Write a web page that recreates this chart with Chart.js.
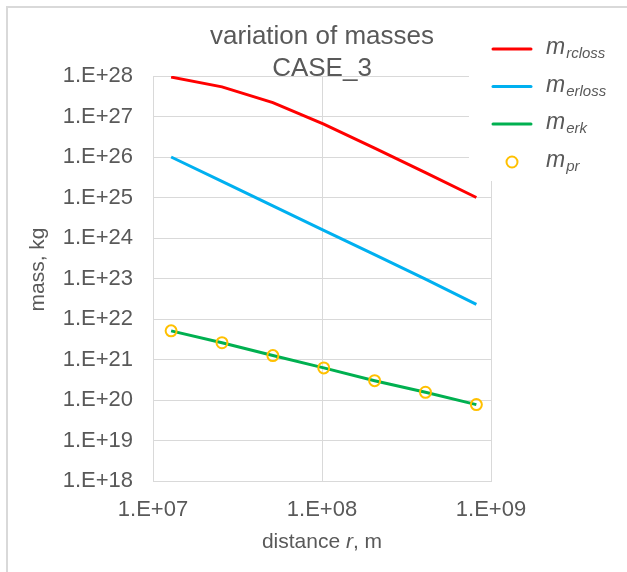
<!DOCTYPE html>
<html>
<head>
<meta charset="utf-8">
<script src="https://cdn.jsdelivr.net/npm/chart.js@4"></script>
<style>
  html, body { margin: 0; padding: 0; background: #fff; }
  #wrap { width: 627px; height: 572px; }
</style>
</head>
<body>
<div id="wrap"><canvas id="massChart" width="627" height="572"></canvas></div>
<script>
// distance r, m
const distances = [1.28e7, 2.56e7, 5.12e7, 1.024e8, 2.048e8, 4.096e8, 8.192e8];
// masses, kg
const mRcloss = [9.4e27, 5.4e27, 2.2e27, 6.5e26, 1.65e26, 4.1e25, 1.0e25];
const mErloss = [1.0e26, 2.5e25, 6.2e24, 1.55e24, 3.9e23, 9.6e22, 2.3e22];
const mErk = [5.1e21, 2.6e21, 1.25e21, 6.2e20, 3.0e20, 1.55e20, 7.7e19];
const mPr = [5.1e21, 2.6e21, 1.25e21, 6.2e20, 3.0e20, 1.55e20, 7.7e19];

const xTicks = [1e7, 1e8, 1e9];
const yTicks = [1e18, 1e19, 1e20, 1e21, 1e22, 1e23, 1e24, 1e25, 1e26, 1e27, 1e28];

const titleLines = ['variation of masses', 'CASE_3'];
const legendItems = [
    { main: 'm', sub: 'rcloss', color: '#FF0000', kind: 'line' },
    { main: 'm', sub: 'erloss', color: '#00B0F0', kind: 'line' },
    { main: 'm', sub: 'erk', color: '#00B050', kind: 'line' },
    { main: 'm', sub: 'pr', color: '#FFC000', kind: 'circle' }
];

const textColor = '#595959';
const gridColor = '#D9D9D9';
const fontFamily = "'Liberation Sans', Arial, sans-serif";

function toPoints(ys) {
    return distances.map((x, i) => ({ x: x, y: ys[i] }));
}

function expLabel(v) {
    const e = Math.round(Math.log10(v));
    return '1.E+' + String(e).padStart(2, '0');
}

// frame, title, axis titles and the legend box are drawn by hand
const decorations = {
    id: 'decorations',
    beforeDraw(chart) {
        const ctx = chart.ctx;
        ctx.save();
        ctx.fillStyle = '#fff';
        ctx.fillRect(0, 0, chart.width, chart.height);
        ctx.strokeStyle = gridColor;
        ctx.lineWidth = 2;
        ctx.beginPath();
        ctx.moveTo(7, chart.height);
        ctx.lineTo(7, 7);
        ctx.lineTo(chart.width, 7);
        ctx.stroke();
        ctx.restore();
    },
    afterDraw(chart) {
        const ctx = chart.ctx;
        const area = chart.chartArea;
        const cx = (area.left + area.right) / 2;
        ctx.save();

        // chart title
        ctx.fillStyle = textColor;
        ctx.textAlign = 'center';
        ctx.textBaseline = 'alphabetic';
        ctx.font = '26px ' + fontFamily;
        ctx.fillText(titleLines[0], cx, area.top - 32);
        ctx.fillText(titleLines[1], cx, area.top);

        // y axis title
        ctx.save();
        ctx.translate(38, (area.top + area.bottom) / 2 - 9);
        ctx.rotate(-Math.PI / 2);
        ctx.font = '21px ' + fontFamily;
        ctx.textBaseline = 'middle';
        ctx.fillText('mass, kg', 0, 0);
        ctx.restore();

        // x axis title with italic r
        ctx.textAlign = 'left';
        const partA = 'distance ';
        const partB = 'r';
        const partC = ', m';
        ctx.font = '21px ' + fontFamily;
        const wA = ctx.measureText(partA).width;
        const wC = ctx.measureText(partC).width;
        ctx.font = 'italic 21px ' + fontFamily;
        const wB = ctx.measureText(partB).width;
        let x = cx - (wA + wB + wC) / 2;
        const by = area.bottom + 67;
        ctx.font = '21px ' + fontFamily;
        ctx.fillText(partA, x, by);
        x += wA;
        ctx.font = 'italic 21px ' + fontFamily;
        ctx.fillText(partB, x, by);
        x += wB;
        ctx.font = '21px ' + fontFamily;
        ctx.fillText(partC, x, by);

        // legend box covers the grid behind it
        ctx.fillStyle = '#fff';
        ctx.fillRect(area.right - 22, 20, chart.width - area.right + 22, area.top + 105 - 20);

        const itemY = [area.top - 27, area.top + 10.5, area.top + 48, area.top + 86];
        legendItems.forEach((item, i) => {
            const y = itemY[i];
            if (item.kind === 'line') {
                ctx.strokeStyle = item.color;
                ctx.lineWidth = 3;
                ctx.lineCap = 'round';
                ctx.beginPath();
                ctx.moveTo(area.right + 2, y);
                ctx.lineTo(area.right + 40, y);
                ctx.stroke();
            } else {
                ctx.strokeStyle = item.color;
                ctx.lineWidth = 2;
                ctx.beginPath();
                ctx.arc(area.right + 21, y, 5.5, 0, Math.PI * 2);
                ctx.stroke();
            }
            ctx.fillStyle = textColor;
            ctx.font = 'italic 23px ' + fontFamily;
            ctx.fillText(item.main, area.right + 55, y + 5);
            const mw = ctx.measureText(item.main).width;
            ctx.font = 'italic 15px ' + fontFamily;
            ctx.fillText(item.sub, area.right + 55 + mw + 1, y + 9);
        });
        ctx.restore();
    }
};

const ctx = document.getElementById('massChart').getContext('2d');
const massChart = new Chart(ctx, {
    type: 'scatter',
    data: {
        datasets: [
            {
                label: 'm_pr',
                data: toPoints(mPr),
                showLine: false,
                pointRadius: 5.5,
                pointBorderWidth: 2,
                pointBorderColor: '#FFC000',
                pointBackgroundColor: 'rgba(0,0,0,0)',
                order: 0
            },
            {
                label: 'm_rcloss',
                data: toPoints(mRcloss),
                showLine: true,
                borderColor: '#FF0000',
                borderWidth: 3,
                pointRadius: 0,
                order: 1
            },
            {
                label: 'm_erloss',
                data: toPoints(mErloss),
                showLine: true,
                borderColor: '#00B0F0',
                borderWidth: 3,
                pointRadius: 0,
                order: 1
            },
            {
                label: 'm_erk',
                data: toPoints(mErk),
                showLine: true,
                borderColor: '#00B050',
                borderWidth: 3,
                pointRadius: 0,
                order: 1
            }
        ]
    },
    options: {
        responsive: false,
        animation: false,
        devicePixelRatio: 1,
        layout: {
            padding: { left: 0, top: 76, right: 136, bottom: 0 }
        },
        scales: {
            x: {
                type: 'logarithmic',
                min: 1e7,
                max: 1e9,
                afterBuildTicks: scale => { scale.ticks = xTicks.map(v => ({ value: v })); },
                afterFit: scale => { scale.height = 91; },
                ticks: {
                    color: textColor,
                    font: { family: fontFamily, size: 22 },
                    padding: 16,
                    maxRotation: 0,
                    autoSkip: false,
                    callback: v => expLabel(v)
                },
                grid: { color: gridColor, lineWidth: 1, drawTicks: false },
                border: { color: gridColor, width: 1 }
            },
            y: {
                type: 'logarithmic',
                min: 1e18,
                max: 1e28,
                afterBuildTicks: scale => { scale.ticks = yTicks.map(v => ({ value: v })); },
                afterFit: scale => { scale.width = 153; },
                ticks: {
                    color: textColor,
                    font: { family: fontFamily, size: 22 },
                    padding: 20,
                    autoSkip: false,
                    callback: v => expLabel(v)
                },
                grid: { color: gridColor, lineWidth: 1, drawTicks: false },
                border: { color: gridColor, width: 1 }
            }
        },
        plugins: {
            legend: { display: false },
            title: { display: false },
            tooltip: { enabled: false }
        }
    },
    plugins: [decorations]
});
</script>
</body>
</html>
